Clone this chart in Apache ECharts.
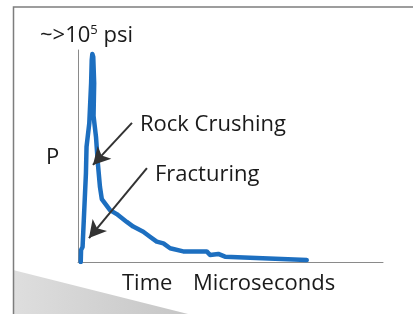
<!DOCTYPE html>
<html>
<head>
<meta charset="utf-8">
<script src="https://cdn.jsdelivr.net/npm/echarts@6/dist/echarts.min.js"></script>
<style>
  html, body { margin: 0; padding: 0; background: #fff; }
  #chart { width: 413px; height: 314px; }
</style>
</head>
<body>
<div id="chart"></div>
<script>
  // pressure pulse, time vs pressure (arbitrary units, 0..100 on both axes)
  var timeValues = [0.9, 1.0, 1.5, 1.7, 2.6, 2.8, 3.7, 4.3, 4.5, 4.7, 5.0, 5.3, 5.1, 5.9, 6.5, 7.2, 7.8,
    10.5, 12.7, 16.0, 18.1, 21.4, 23.6, 25.8, 28.0, 30.2, 34.5, 42.2, 43.3, 46.0, 48.2, 56.4, 75.0]
  var pressureValues = [0, 5.7, 7.1, 7.2, 41.8, 54.4, 65.4, 84.4, 95.3, 98.1, 96.7, 84.4, 68.9, 59.0, 46.7, 35.4, 29.7,
    24.5, 22.6, 18.9, 16.7, 14.3, 11.9, 9.6, 8.8, 6.5, 5.0, 5.0, 3.3, 3.8, 2.5, 2.0, 0.9]

  // annotation arrows: [fromTime, fromPressure, toTime, toPressure]
  var crushingArrow = [17.7, 65.6, 4.9, 45.8]
  var fracturingArrow = [22.6, 44.3, 3.6, 11.3]

  var fontFamily = '"Open Sans", sans-serif'
  var textColor = '#1a1a1a'
  var axisColor = '#8a8a8a'

  var lineData = timeValues.map(function (t, i) {
    return [t, pressureValues[i]]
  })

  function arrow (a) {
    return [{ coord: [a[0], a[1]] }, { coord: [a[2], a[3]] }]
  }

  function label (text, x, y) {
    return {
      type: 'text',
      left: x,
      top: y,
      z: 10,
      style: { text: text, font: '22px ' + fontFamily, fill: textColor }
    }
  }

  var chart = echarts.init(document.getElementById('chart'))
  chart.setOption({
    animation: false,
    grid: { left: 78, top: 50, right: 30, bottom: 52 },
    xAxis: {
      type: 'value',
      min: 0,
      max: 100,
      axisLine: { show: true, lineStyle: { color: axisColor, width: 1 } },
      axisTick: { show: false },
      axisLabel: { show: false },
      splitLine: { show: false }
    },
    yAxis: {
      type: 'value',
      min: 0,
      max: 100,
      axisLine: { show: true, lineStyle: { color: axisColor, width: 1 } },
      axisTick: { show: false },
      axisLabel: { show: false },
      splitLine: { show: false }
    },
    series: [{
      type: 'line',
      data: lineData,
      showSymbol: false,
      lineStyle: { color: '#1d6fc0', width: 4.5, join: 'round', cap: 'round' },
      markLine: {
        silent: true,
        symbol: ['none', 'arrow'],
        symbolSize: [14, 17],
        label: { show: false },
        lineStyle: { color: '#333', width: 2, type: 'solid' },
        data: [arrow(crushingArrow), arrow(fracturingArrow)]
      }
    }],
    graphic: [
      {
        type: 'polygon',
        z: 0,
        shape: { points: [[13, 270], [188, 314], [13, 314]] },
        style: {
          fill: new echarts.graphic.LinearGradient(0, 0, 1, 0, [
            { offset: 0, color: '#dedede' },
            { offset: 1, color: '#c6c6c6' }
          ])
        }
      },
      {
        type: 'polyline',
        z: 1,
        shape: { points: [[13.5, 314], [13.5, 7], [413, 7]] },
        style: { stroke: '#7d7d7d', lineWidth: 1.5, fill: null }
      },
      {
        type: 'text',
        left: 40,
        top: 24,
        z: 10,
        style: {
          text: '{a|~>10}{s|5}{a| psi}',
          rich: {
            a: { font: '22px ' + fontFamily, fill: textColor },
            s: { font: '13px ' + fontFamily, fill: textColor, padding: [0, 0, 11, 0] }
          }
        }
      },
      label('Rock Crushing', 140, 114),
      label('Fracturing', 155, 164),
      label('P', 46, 147),
      label('Time', 122, 273),
      label('Microseconds', 193, 273)
    ]
  })
</script>
</body>
</html>
